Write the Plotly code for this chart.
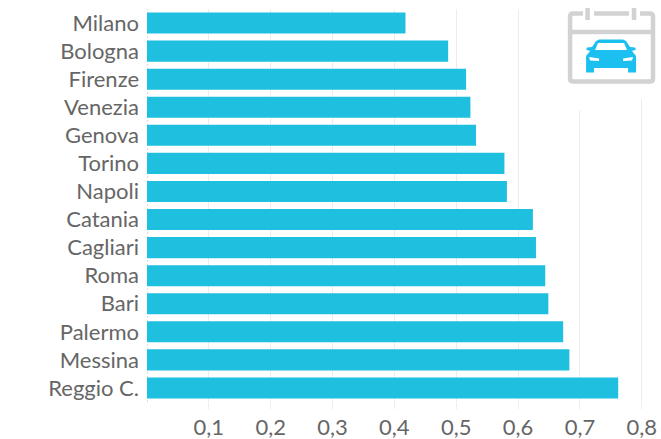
import plotly.graph_objects as go

cities = ["Milano", "Bologna", "Firenze", "Venezia", "Genova", "Torino", "Napoli",
          "Catania", "Cagliari", "Roma", "Bari", "Palermo", "Messina", "Reggio C."]
values = [0.418, 0.487, 0.516, 0.523, 0.532, 0.578, 0.582,
          0.624, 0.629, 0.644, 0.649, 0.673, 0.683, 0.762]
tick_values = [0.1, 0.2, 0.3, 0.4, 0.5, 0.6, 0.7, 0.8]

W, H = 661, 439
ML, MR, MT, MB = 146.5, 0, 9, 37
GREY = "#d2d2d2"
BLUE = "#1cc0f0"


def px(x):
    return (x - ML) / (W - ML - MR)


def py(y):
    return (H - MB - y) / (H - MT - MB)


def rect(x0, y0, x1, y1, color, line=None):
    return dict(type="rect", xref="paper", yref="paper", x0=px(x0), x1=px(x1), y0=py(y0), y1=py(y1),
                fillcolor=color, line=dict(width=0) if line is None else line, layer="above")


def seg(x0, y0, x1, y1, color=GREY, w=4.5):
    return dict(type="line", xref="paper", yref="paper", x0=px(x0), x1=px(x1), y0=py(y0), y1=py(y1),
                line=dict(color=color, width=w), layer="above")


def path(points, color):
    d = "M " + " L ".join(f"{px(a):.5f},{py(b):.5f}" for a, b in points) + " Z"
    return dict(type="path", xref="paper", yref="paper", path=d, fillcolor=color,
                line=dict(width=0), layer="above")


car = [(596, 41), (599, 39.5), (623, 39.5), (626, 41), (630, 47), (635, 47.5), (636, 49.5), (632, 51),
       (636, 56), (636, 72.5), (628, 72.5), (628, 68), (594, 68), (594, 72.5), (586, 72.5), (586, 56),
       (590, 51), (586, 49.5), (587, 47.5), (592, 47)]
windshield = [(598, 43), (624, 43), (627, 50), (595, 50)]
lamp_l = [(589, 57), (599, 58.5), (599, 61), (590, 60.5)]
lamp_r = [(633, 57), (623, 58.5), (623, 61), (632, 60.5)]

shapes = [
    dict(type="line", xref="x", yref="paper", x0=0, x1=0, y0=0, y1=1, layer="below",
         line=dict(color="#b5b5b5", width=1, dash="2px,2px")),
    # mask behind the icon, hiding the top of the gridlines
    rect(560, 0, 600, 110, "white"),
    rect(600, 0, 661, 99, "white"),
    # calendar frame
    dict(type="path", xref="paper", yref="paper", layer="above", line=dict(color=GREY, width=4.5),
         path=f"M {px(583):.5f},{py(13.5):.5f} L {px(573):.5f},{py(13.5):.5f} "
              f"Q {px(570):.5f},{py(13.5):.5f} {px(570):.5f},{py(16.5):.5f} "
              f"L {px(570):.5f},{py(78.5):.5f} Q {px(570):.5f},{py(81.5):.5f} {px(573):.5f},{py(81.5):.5f} "
              f"L {px(650):.5f},{py(81.5):.5f} Q {px(653):.5f},{py(81.5):.5f} {px(653):.5f},{py(78.5):.5f} "
              f"L {px(653):.5f},{py(16.5):.5f} Q {px(653):.5f},{py(13.5):.5f} {px(650):.5f},{py(13.5):.5f} "
              f"L {px(640):.5f},{py(13.5):.5f}"),
    seg(594, 13.5, 629, 13.5),
    seg(570, 32, 653, 32),
    seg(587.5, 8, 587.5, 20),
    seg(634, 8, 634, 20),
    path(car, BLUE),
    path(windshield, "white"),
    path(lamp_l, "white"),
    path(lamp_r, "white"),
]

fig = go.Figure(go.Bar(
    x=values, y=cities, orientation="h", marker=dict(color="#1fbfe0", line=dict(width=0)),
    width=0.75, hoverinfo="skip",
))

fig.update_layout(
    width=W, height=H,
    margin=dict(l=ML, r=MR, t=MT, b=MB, pad=0, autoexpand=False),
    paper_bgcolor="white", plot_bgcolor="white",
    separators=",.",
    showlegend=False,
    font=dict(family="Lato", size=22, color="#666666"),
    shapes=shapes,
    xaxis=dict(
        range=[0, (W - ML) / 619], tickvals=tick_values, tickformat=".1f", automargin=False,
        showgrid=True, gridcolor="#ececec", gridwidth=1, zeroline=False, showline=False,
        ticks="outside", ticklen=6, tickcolor="#ececec", tickwidth=1,
        ticklabelstandoff=0,
    ),
    yaxis=dict(
        autorange="reversed", showgrid=False, zeroline=False, showline=False, automargin=False,
        ticks="", ticklabelstandoff=7,
    ),
)

fig.write_html("out.html", config=dict(displayModeBar=False),
               post_script="document.body.style.margin='0';document.documentElement.style.overflow='hidden';")
